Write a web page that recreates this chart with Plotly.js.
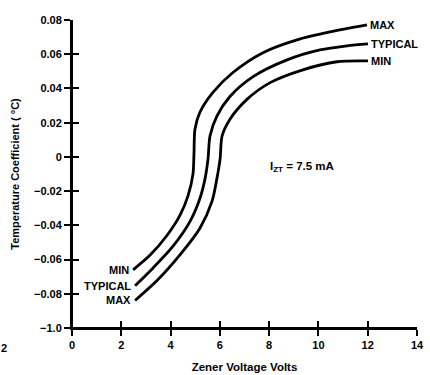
<!DOCTYPE html>
<html>
<head>
<meta charset="utf-8">
<script src="https://cdn.plot.ly/plotly-3.0.1.min.js"></script>
<style>html,body{margin:0;padding:0;background:#fff;}#chart{width:430px;height:375px;}</style>
</head>
<body>
<div id="chart"></div>
<script>
// Curve A: MIN label at low end, MAX label at high end
const curveA_x = [2.48, 3.17, 3.86, 4.38, 4.71, 4.91, 4.95, 4.99, 5.19, 5.72, 6.53, 7.75, 9.13, 10.47, 11.97];
const curveA_y = [-0.066, -0.0574, -0.0458, -0.0342, -0.0226, -0.0099, 0.0017, 0.0162, 0.0261, 0.0377, 0.0493, 0.0609, 0.0684, 0.073, 0.0771];
// Curve B: TYPICAL
const curveB_x = [2.56, 3.29, 4.10, 4.79, 5.19, 5.40, 5.52, 5.60, 5.88, 6.41, 7.35, 8.73, 10.06, 11.16, 12.01];
const curveB_y = [-0.0753, -0.0649, -0.0522, -0.0377, -0.0243, -0.0127, -0.0012, 0.0122, 0.0238, 0.0353, 0.0469, 0.0567, 0.0625, 0.0649, 0.066];
// Curve C: MAX label at low end, MIN label at high end
const curveC_x = [2.56, 3.45, 4.38, 5.19, 5.68, 5.88, 6.01, 6.09, 6.41, 7.10, 8.04, 9.37, 10.75, 12.01];
const curveC_y = [-0.0839, -0.0723, -0.0573, -0.0417, -0.026, -0.0127, -0.0012, 0.0122, 0.022, 0.0336, 0.0434, 0.0509, 0.0556, 0.0561];

const lowLabels = ["MIN", "TYPICAL", "MAX"];
const highLabels = ["MAX", "TYPICAL", "MIN"];

const xTickVals = [0, 2, 4, 6, 8, 10, 12, 14];
const xTickText = ["0", "2", "4", "6", "8", "10", "12", "14"];
const yTickVals = [0.08, 0.06, 0.04, 0.02, 0, -0.02, -0.04, -0.06, -0.08, -0.10];
const yTickText = ["0.08", "0.06", "0.04", "0.02", "0", "\u22120.02", "\u22120.04", "\u22120.06", "\u22120.08", "\u22121.0"];

const FONT = "Liberation Sans, Arial, Helvetica, sans-serif";
const lineStyle = {color: "#000", width: 2.8, shape: "spline", smoothing: 0.8};

const curves = [[curveA_x, curveA_y], [curveB_x, curveB_y], [curveC_x, curveC_y]];
const traces = curves.map((c, i) => ({
  x: c[0], y: c[1], type: "scatter", mode: "lines", line: lineStyle,
  name: lowLabels[i] + "/" + highLabels[i], hoverinfo: "x+y"
}));
// invisible trace to carry the overlay axes (for cross ticks)
traces.push({x: [1], y: [0], xaxis: "x2", yaxis: "y2", mode: "markers",
  marker: {opacity: 0}, hoverinfo: "skip", showlegend: false});

const lblFont = {family: FONT, size: 11, color: "#000"};
const annotations = [];
curves.forEach((c, i) => {
  const n = c[0].length;
  annotations.push({x: c[0][n - 1], y: c[1][n - 1], xref: "x", yref: "y", text: "<b>" + highLabels[i] + "</b>",
    showarrow: false, xanchor: "left", yanchor: "middle", xshift: 1, font: lblFont});
  annotations.push({x: c[0][0], y: c[1][0], xref: "x", yref: "y", text: "<b>" + lowLabels[i] + "</b>",
    showarrow: false, xanchor: "right", yanchor: "middle", xshift: -2, font: lblFont});
});
annotations.push({x: 9.35, y: -0.006, xref: "x", yref: "y", text: "<b>I<sub>ZT</sub> = 7.5 mA</b>",
  showarrow: false, font: {family: FONT, size: 11.5, color: "#000"}});
annotations.push({x: -0.212, y: -0.065, xref: "paper", yref: "paper", text: "<b>2</b>", showarrow: false,
  xanchor: "left", yanchor: "middle", font: lblFont});

const axCommon = {showgrid: false, zeroline: false, showline: true, linecolor: "#000", linewidth: 2,
  tickcolor: "#000", tickwidth: 2, ticklen: 6, fixedrange: true};

const layout = {
  width: 430, height: 375,
  margin: {l: 72, r: 13, t: 20, b: 47},
  paper_bgcolor: "#fff", plot_bgcolor: "#fff",
  showlegend: false,
  font: {family: FONT, color: "#000"},
  xaxis: Object.assign({}, axCommon, {range: [0, 14], tickmode: "array", tickvals: xTickVals, ticktext: xTickText,
    ticks: "outside", tickfont: {family: FONT, size: 11, weight: "bold"},
    title: {text: "<b>Zener Voltage Volts</b>", font: {family: FONT, size: 11.5}, standoff: 13}}),
  yaxis: Object.assign({}, axCommon, {range: [-0.1, 0.08], tickmode: "array", tickvals: yTickVals, ticktext: yTickText,
    ticks: "outside", tickfont: {family: FONT, size: 11, weight: "bold"},
    title: {text: "<b>Temperature Coefficient ( \u00B0C)</b>", font: {family: FONT, size: 11}, standoff: 12}}),
  xaxis2: Object.assign({}, axCommon, {overlaying: "x", range: [0, 14], tickmode: "array", tickvals: xTickVals.slice(1),
    ticks: "inside", showticklabels: false, side: "bottom", anchor: "free", position: 0}),
  yaxis2: Object.assign({}, axCommon, {overlaying: "y", range: [-0.1, 0.08], tickmode: "array", tickvals: yTickVals.slice(0, -1),
    ticks: "inside", showticklabels: false, side: "left", anchor: "free", position: 0}),
  annotations: annotations
};

Plotly.newPlot("chart", traces, layout, {displayModeBar: false, staticPlot: true});
</script>
</body>
</html>
